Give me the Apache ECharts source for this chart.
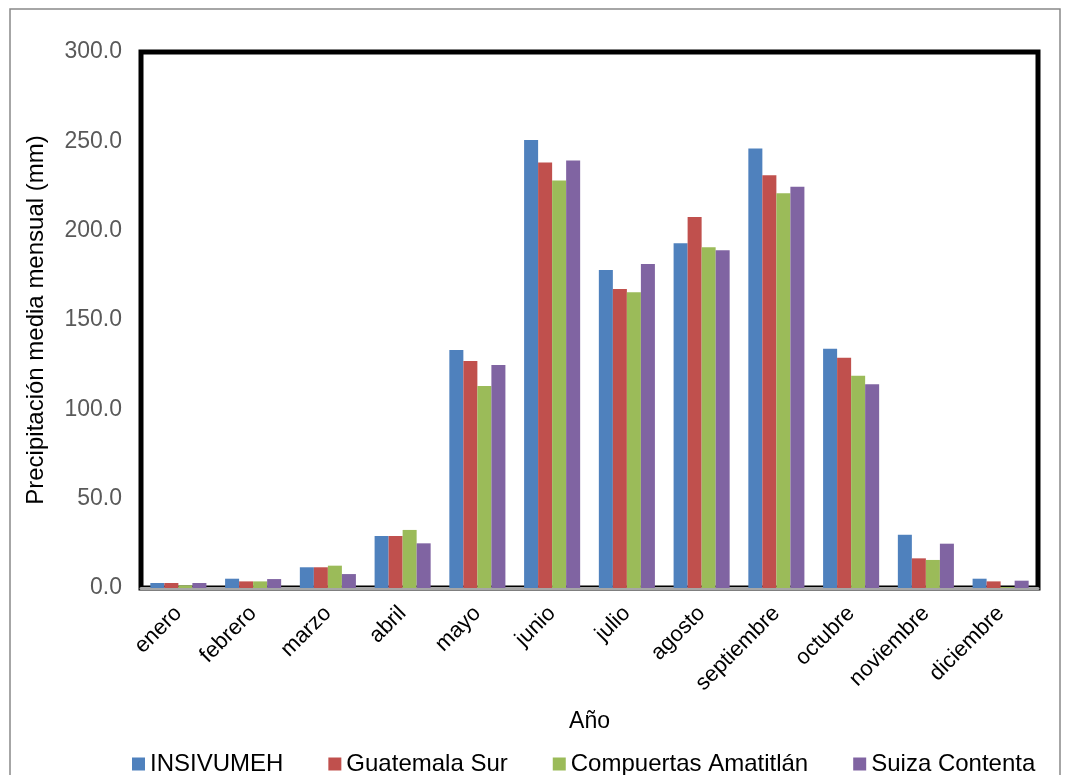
<!DOCTYPE html>
<html><head><meta charset="utf-8">
<script src="https://cdn.jsdelivr.net/npm/echarts@6/dist/echarts.min.js"></script>
<style>html,body{margin:0;padding:0;background:#fff}#c{width:1067px;height:775px}</style>
</head><body><div id="c"></div>
<script>
const months = ['enero','febrero','marzo','abril','mayo','junio','julio','agosto','septiembre','octubre','noviembre','diciembre'];
const seriesNames = ['INSIVUMEH','Guatemala Sur','Compuertas Amatitlán','Suiza Contenta'];
const insivumeh = [2.8, 5.2, 11.6, 29.1, 133.2, 250.7, 178.0, 192.9, 246.0, 133.9, 29.8, 5.2];
const guatemalaSur = [2.8, 3.7, 11.6, 29.1, 127.0, 238.2, 167.3, 207.6, 231.0, 128.9, 16.6, 3.7];
const compuertas = [1.5, 3.7, 12.5, 32.5, 113.0, 228.1, 165.6, 190.7, 221.0, 118.8, 15.7, 0.5];
const suiza = [2.8, 5.0, 7.8, 25.0, 124.8, 239.3, 181.3, 189.0, 224.6, 114.0, 24.8, 4.1];
const colors = ['#4f81bd','#c0504d','#9bbb59','#8064a2'];
const yTicks = {min:0, max:300, interval:50};

const chart = echarts.init(document.getElementById('c'));
const font = 'Liberation Sans, Arial, sans-serif';
const data = [insivumeh, guatemalaSur, compuertas, suiza];
chart.setOption({
  animation:false,
  color: colors,
  graphic:[{type:'rect', shape:{x:10,y:9,width:1050,height:780}, style:{fill:'none',stroke:'#898989',lineWidth:1.5}, z:-10}],
  grid:{left:141,right:29,top:52,bottom:187,show:true,borderColor:'#000',borderWidth:5},
  legend:{top:747,left:127,itemWidth:13,itemHeight:13,itemGap:45,icon:'rect',
    textStyle:{fontFamily:font,fontSize:24,color:'#000'},
    data:seriesNames},
  xAxis:{type:'category',data:months,name:'Año',nameLocation:'middle',nameGap:122,
    nameTextStyle:{fontFamily:font,fontSize:23,color:'#000'},
    axisLine:{lineStyle:{color:'#a6a6a6',width:3}},axisTick:{show:false},
    axisLabel:{rotate:45,fontFamily:font,fontSize:22,color:'#000',margin:22,interval:0}},
  yAxis:{type:'value',min:yTicks.min,max:yTicks.max,interval:yTicks.interval,
    name:'Precipitación media mensual (mm)',nameLocation:'middle',nameGap:93,
    nameTextStyle:{fontFamily:font,fontSize:24,color:'#000'},
    splitLine:{show:false},axisLine:{show:false},axisTick:{show:false},
    axisLabel:{fontFamily:font,fontSize:23,color:'#595959',margin:19,formatter:v=>v.toFixed(1)}},
  series: seriesNames.map((n,i)=>({name:n,type:'bar',data:data[i],barGap:'0%',barCategoryGap:'25%'}))
});
</script></body></html>
